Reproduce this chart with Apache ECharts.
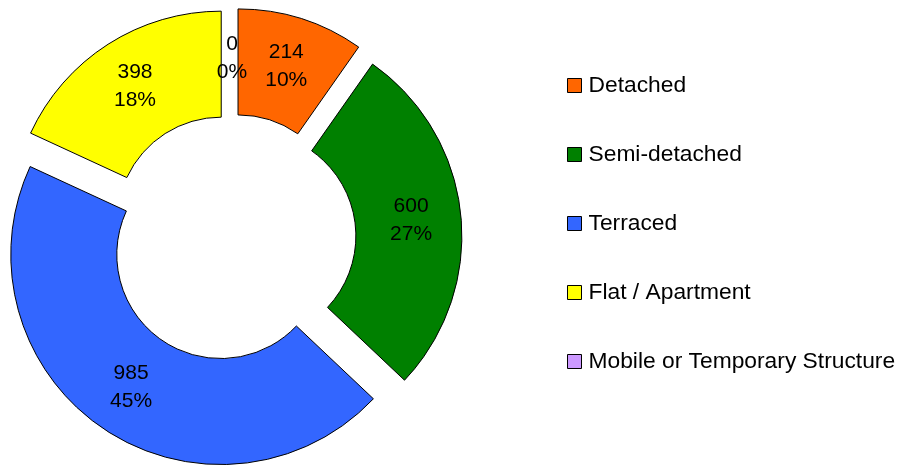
<!DOCTYPE html>
<html>
<head>
<meta charset="utf-8">
<script src="https://cdn.jsdelivr.net/npm/echarts@6/dist/echarts.min.js"></script>
<style>
  html, body { margin: 0; padding: 0; background: #fff; }
  #chart { width: 900px; height: 467px; }
</style>
</head>
<body>
<div id="chart"></div>
<script>
// categories and counts
const categories = ['Detached', 'Semi-detached', 'Terraced', 'Flat / Apartment', 'Mobile or Temporary Structure'];
const counts = [214, 600, 985, 398, 0];
const colors = ['#FF6600', '#008000', '#3366FF', '#FFFF00', '#CC99FF'];

const chart = echarts.init(document.getElementById('chart'));

const pieData = categories.map((name, i) => ({
  name: name,
  value: counts[i],
  selected: true,
  itemStyle: {
    color: colors[i],
    // zero slice has no visible edge
    borderWidth: counts[i] === 0 ? 0 : 1
  }
}));

const option = {
  animation: false,
  textStyle: { fontFamily: 'Liberation Sans, Arial, sans-serif' },
  legend: {
    orient: 'vertical',
    left: 562,
    top: 69,
    itemWidth: 14,
    itemHeight: 14,
    itemGap: 46,
    selectedMode: false,
    icon: 'rect',
    itemStyle: { borderColor: '#000', borderWidth: 1 },
    textStyle: { fontSize: 22.8, color: '#000', lineHeight: 20, padding: [0, 0, 0, 2] },
    data: categories
  },
  series: [{
    type: 'pie',
    center: [232, 238],
    radius: [104, 210],
    startAngle: 90,
    clockwise: true,
    selectedMode: 'multiple',
    selectedOffset: 20,
    percentPrecision: 0,
    avoidLabelOverlap: false,
    emphasis: { disabled: true },
    itemStyle: { borderColor: '#000', borderWidth: 1 },
    label: {
      show: true,
      position: 'inside',
      color: '#000',
      fontSize: 21,
      lineHeight: 28,
      padding: [4, 0, 0, 0],
      formatter: p => p.value + '\n' + p.percent + '%'
    },
    labelLine: { show: false },
    data: pieData
  }]
};

chart.setOption(option);
</script>
</body>
</html>
